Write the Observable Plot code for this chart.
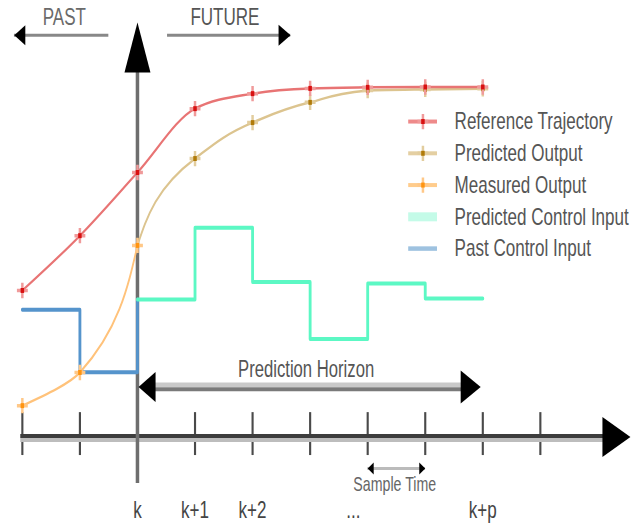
<!DOCTYPE html>
<html><head><meta charset="utf-8">
<script src="https://cdn.jsdelivr.net/npm/d3@7"></script>
<script src="https://cdn.jsdelivr.net/npm/@observablehq/plot@0.6"></script>
<style>html,body{margin:0;padding:0;background:#fff;overflow:hidden}</style>
</head><body><div id="chart"></div>
<script>
// ---- data (time steps relative to k, output levels normalised to the final reference) ----
const ticks = [-2, -1, 0, 1, 2, 3, 4, 5, 6, 7];
const tickLabelAt = [0, 1, 2, 3.75, 6];
const tickLabels = ["k", "k+1", "k+2", "...", "k+p"];

const refT = [-2, -1, 0, 1, 2, 3, 4, 5, 6];
const refY = [0.417, 0.574, 0.755, 0.938, 0.981, 0.996, 0.999, 1.0, 1.0];

const predT = [0, 1, 2, 3, 4, 5, 6];
const predY = [0.546, 0.795, 0.898, 0.956, 0.990, 0.993, 0.995];

const measT = [-2, -1, 0];
const measY = [0.087, 0.182, 0.546];

const ctrlT = [0, 1, 2, 3, 4, 5];
const ctrlY = [0.391, 0.597, 0.441, 0.278, 0.437, 0.394];

const pastCtrlT = [-2, -1, 0];
const pastCtrlY = [0.362, 0.183, 0.391];

const horizon = [0, 6];          // k .. k+p
const sampleTime = [4, 5];       // one sample interval
const pastArrow = [-2.14, -0.5];
const futureArrow = [0.52, 2.66];
const legendLabels = ["Reference Trajectory", "Predicted Output", "Measured Output", "Predicted Control Input", "Past Control Input"];

// ---- layout / style ----
const SQ = 0.71;                 // horizontal squeeze of the drawing
const W = 631 / SQ;
const FONT = "'Liberation Sans', Arial, Helvetica, sans-serif";
const AXIS_END = 8.1, AXIS_TIP = 8.565, AXIS_START = -2.03;
const V_TOP = 1.185, V_BOTTOM = -0.136;
const ARROW_LEVEL = 1.148, TOP_TEXT = 1.199;
const HORIZON_Y = 0.1404, HORIZON_TEXT = 0.19;
const SAMPLE_Y = -0.093, SAMPLE_TEXT = -0.139;
const LABEL_Y = -0.212;
const LEG = {x1: 4.71, x2: 5.21, tx: 5.51, top: 0.901, step: 0.091};

const C = {
  ref: "#e87474", refDot: "#d81010",
  pred: "#dcc48f", predDot: "#b07a08",
  meas: "#ffc27a", measDot: "#ff9410",
  ctrl: "#5cf8c4", past: "#5594cc",
  text: "#555"
};

function head(dir, len, base) {
  return {draw(ctx) {
    if (dir === "up") { ctx.moveTo(0, 0); ctx.lineTo(-base / 2, len); ctx.lineTo(base / 2, len); }
    if (dir === "right") { ctx.moveTo(0, 0); ctx.lineTo(-len, -base / 2); ctx.lineTo(-len, base / 2); }
    if (dir === "left") { ctx.moveTo(0, 0); ctx.lineTo(len, -base / 2); ctx.lineTo(len, base / 2); }
    ctx.closePath();
  }};
}
const pts = (T, Y) => T.map((t, i) => ({t, v: Y[i]}));
const ref = pts(refT, refY);
const pred = pts(predT, predY);
const meas = pts(measT, measY);
const ctrl = pts(ctrlT, ctrlY).concat([{t: horizon[1], v: ctrlY[ctrlY.length - 1]}]);
const pastCtrl = pts(pastCtrlT, pastCtrlY);

function markers(data, light, dark) {
  return [
    Plot.dot(data, {x: "t", y: "v", symbol: "plus", r: 5, stroke: light, strokeWidth: 3.5}),
    Plot.dot(data, {x: "t", y: "v", symbol: "square", r: 2.8, fill: dark, stroke: "none"})
  ];
}

const legendRows = legendLabels.map((label, i) => ({label, y: LEG.top - i * LEG.step, xm: (LEG.x1 + LEG.x2) / 2}));
const legStyles = [
  {stroke: "#ee8a8a", w: 4, light: "#f09a9a", dark: C.refDot},
  {stroke: "#e4cfa2", w: 4, light: "#e2cd9e", dark: C.predDot},
  {stroke: "#ffcc8c", w: 4, light: "#ffc888", dark: C.measDot},
  {stroke: "#c4fbe8", w: 9},
  {stroke: "#9ec2e0", w: 4.5}
];
const legendMarks = legendRows.flatMap((r, i) => {
  const s = legStyles[i];
  const m = [Plot.ruleY([r], {y: "y", x1: LEG.x1, x2: LEG.x2, stroke: s.stroke, strokeWidth: s.w})];
  if (s.dark) m.push(...markers([{t: r.xm, v: r.y}], s.light, s.dark));
  m.push(Plot.text([r], {x: LEG.tx, y: "y", text: "label", textAnchor: "start", lineAnchor: "middle", fontSize: 24, fill: C.text, fontFamily: FONT}));
  return m;
});

const plot = Plot.plot({
  width: W, height: 527, margin: 0,
  x: {domain: [-2, 7], range: [22 / SQ, 540 / SQ], axis: null},
  y: {domain: [0, 1], range: [435.5, 86.5], axis: null},
  style: {fontFamily: FONT, background: "white"},
  marks: [
    // time axis ticks
    Plot.ruleX(ticks.filter(d => d !== 0), {x: d => d, y1: -0.056, y2: 0.067, stroke: "#4a4a4a", strokeWidth: 3}),
    // time axis
    Plot.ruleY([0], {x1: AXIS_START, x2: AXIS_END, stroke: "#bdbdbd", strokeWidth: 4, dy: 4}),
    Plot.ruleY([0], {x1: AXIS_START, x2: AXIS_END, stroke: "#3d3d3d", strokeWidth: 4}),
    Plot.dot([{t: AXIS_TIP, v: 0}], {x: "t", y: "v", symbol: head("right", 28 / SQ, 40), fill: "black", stroke: "none", dy: 1}),
    // vertical "now" axis
    Plot.ruleX([0], {y1: V_BOTTOM, y2: V_TOP - 0.14, stroke: "#6e6e6e", strokeWidth: 3.5 / SQ}),
    Plot.dot([{t: 0, v: V_TOP}], {x: "t", y: "v", symbol: head("up", 50, 26 / SQ), fill: "black", stroke: "none"}),
    // PAST / FUTURE
    Plot.ruleY([ARROW_LEVEL], {x1: pastArrow[0], x2: pastArrow[1], stroke: "#888", strokeWidth: 3}),
    Plot.ruleY([ARROW_LEVEL], {x1: futureArrow[0], x2: futureArrow[1], stroke: "#888", strokeWidth: 3}),
    Plot.dot([{t: pastArrow[0], v: ARROW_LEVEL}], {x: "t", y: "v", symbol: head("left", 11 / SQ, 20), fill: "black", stroke: "none"}),
    Plot.dot([{t: futureArrow[1], v: ARROW_LEVEL}], {x: "t", y: "v", symbol: head("right", 12 / SQ, 21), fill: "black", stroke: "none"}),
    Plot.text(["PAST"], {x: (pastArrow[0] + pastArrow[1]) / 2 + 0.05, y: TOP_TEXT, text: d => d, fontSize: 24, fill: "#6a6a6a", lineAnchor: "middle"}),
    Plot.text(["FUTURE"], {x: (futureArrow[0] + futureArrow[1]) / 2 - 0.07, y: TOP_TEXT, text: d => d, fontSize: 24, fill: "#555", lineAnchor: "middle"}),
    // prediction horizon
    Plot.ruleY([HORIZON_Y], {x1: horizon[0], x2: horizon[1], stroke: "#c9c9c9", strokeWidth: 4.4, dy: -2.2, insetLeft: 10, insetRight: 12}),
    Plot.ruleY([HORIZON_Y], {x1: horizon[0], x2: horizon[1], stroke: "#7a7a7a", strokeWidth: 4, dy: 2.2, insetLeft: 10, insetRight: 12}),
    Plot.dot([{t: horizon[0], v: HORIZON_Y}], {x: "t", y: "v", symbol: head("left", 17 / SQ, 30), fill: "black", stroke: "none", dx: 1.5}),
    Plot.dot([{t: horizon[1], v: HORIZON_Y}], {x: "t", y: "v", symbol: head("right", 20 / SQ, 33), fill: "black", stroke: "none", dx: -3}),
    Plot.text(["Prediction Horizon"], {x: (horizon[0] + horizon[1]) / 2 - 0.07, y: HORIZON_TEXT, text: d => d, fontSize: 23.5, fill: C.text, lineAnchor: "middle"}),
    // sample time
    Plot.ruleY([SAMPLE_Y], {x1: sampleTime[0], x2: sampleTime[1], stroke: "#bbb", strokeWidth: 3}),
    Plot.dot([{t: sampleTime[0], v: SAMPLE_Y}], {x: "t", y: "v", symbol: head("left", 6 / SQ, 12), fill: "black", stroke: "none"}),
    Plot.dot([{t: sampleTime[1], v: SAMPLE_Y}], {x: "t", y: "v", symbol: head("right", 6 / SQ, 12), fill: "black", stroke: "none"}),
    Plot.text(["Sample Time"], {x: (sampleTime[0] + sampleTime[1]) / 2 - 0.03, y: SAMPLE_TEXT, text: d => d, fontSize: 20, fill: "#666", lineAnchor: "middle"}),
    // step labels
    Plot.text(tickLabels, {x: (d, i) => tickLabelAt[i], y: LABEL_Y, text: d => d, fontSize: 24, fill: "#444", lineAnchor: "middle"}),
    // control inputs
    Plot.line(pastCtrl, {x: "t", y: "v", curve: "step-after", stroke: C.past, strokeWidth: 4}),
    Plot.line(ctrl, {x: "t", y: "v", curve: "step-after", stroke: C.ctrl, strokeWidth: 4}),
    // outputs
    Plot.line(meas, {x: "t", y: "v", curve: "monotone-y", stroke: C.meas, strokeWidth: 2.5}),
    Plot.line(pred, {x: "t", y: "v", curve: "monotone-y", stroke: C.pred, strokeWidth: 2.5}),
    Plot.line(ref, {x: "t", y: "v", curve: "monotone-x", stroke: C.ref, strokeWidth: 2.5}),
    ...markers(pred.slice(1), "#e2cd9e", C.predDot),
    ...markers(ref, "#f09a9a", C.refDot),
    ...markers(meas, "#ffc888", C.measDot),
    // legend
    ...legendMarks
  ]
});
plot.setAttribute("width", 631);
plot.setAttribute("preserveAspectRatio", "none");
plot.style.width = "631px";
plot.style.height = "527px";
plot.style.maxWidth = "none";
document.getElementById("chart").appendChild(plot);
</script>
</body></html>
